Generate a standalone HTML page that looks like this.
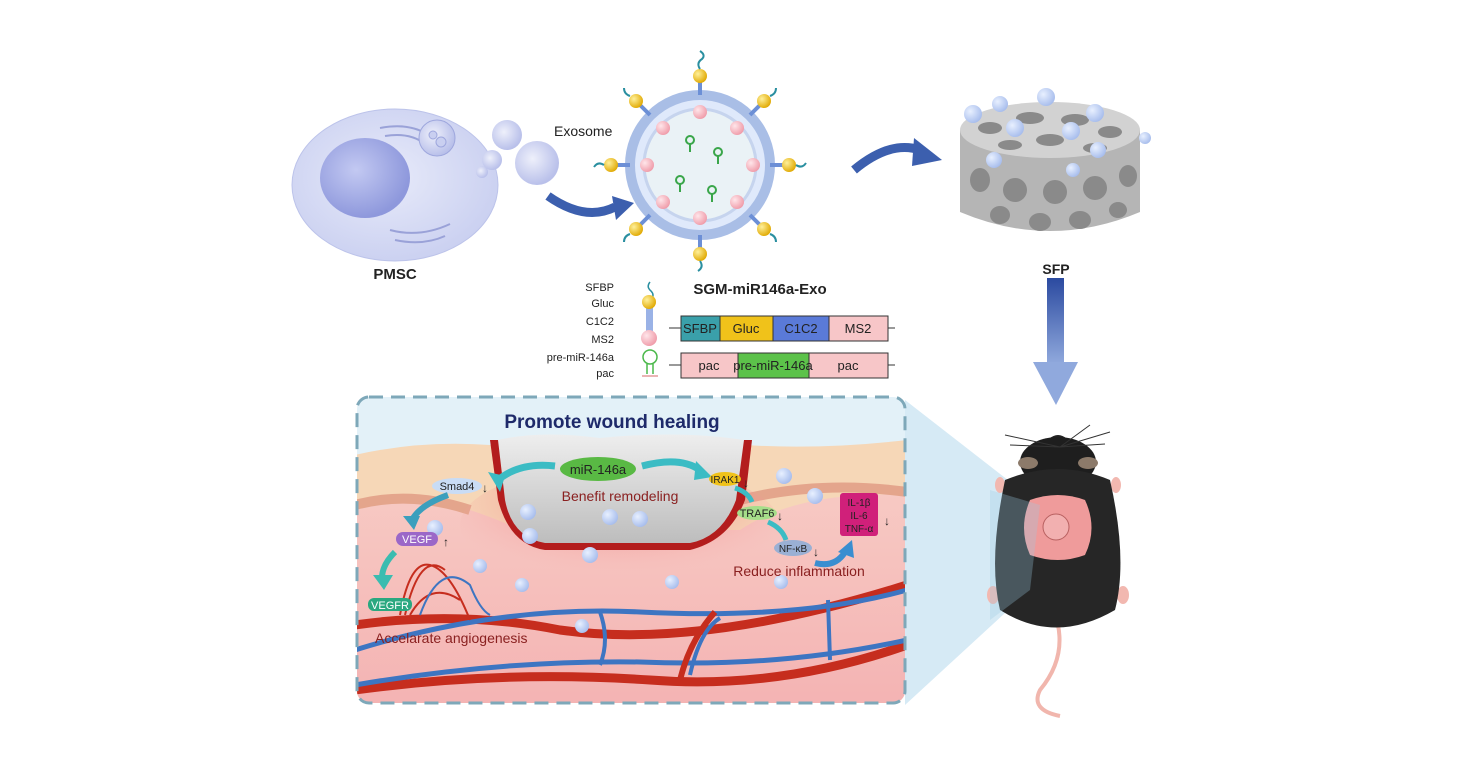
<!DOCTYPE html>
<html><head><meta charset="utf-8"><style>
html,body{margin:0;padding:0;background:#fff;}
svg{display:block;font-family:"Liberation Sans",Arial,sans-serif;}
</style></head><body>
<svg width="1471" height="784" viewBox="0 0 1471 784" xmlns="http://www.w3.org/2000/svg">
<defs>
<radialGradient id="cell" cx="0.45" cy="0.45" r="0.6"><stop offset="0" stop-color="#e8ebfa"/><stop offset="1" stop-color="#c9cff0"/></radialGradient>
<radialGradient id="nuc" cx="0.4" cy="0.4" r="0.6"><stop offset="0" stop-color="#c3c9f2"/><stop offset="1" stop-color="#8e98dc"/></radialGradient>
<radialGradient id="ves" cx="0.4" cy="0.4" r="0.6"><stop offset="0" stop-color="#eef0fb"/><stop offset="1" stop-color="#b9c0ea"/></radialGradient>
<radialGradient id="bead" cx="0.35" cy="0.35" r="0.7"><stop offset="0" stop-color="#e8f0ff"/><stop offset="1" stop-color="#a6bcec"/></radialGradient>
<radialGradient id="gold" cx="0.35" cy="0.35" r="0.7"><stop offset="0" stop-color="#fff09a"/><stop offset="1" stop-color="#e0a800"/></radialGradient>
<radialGradient id="pinkb" cx="0.35" cy="0.35" r="0.7"><stop offset="0" stop-color="#ffe6ea"/><stop offset="1" stop-color="#ef9aa8"/></radialGradient>
<linearGradient id="darr" x1="0" y1="0" x2="0" y2="1"><stop offset="0" stop-color="#2b4aa0"/><stop offset="1" stop-color="#8fa8dc"/></linearGradient>
<linearGradient id="skin" x1="0" y1="0" x2="0" y2="1"><stop offset="0" stop-color="#f7c9c3"/><stop offset="1" stop-color="#f4b3b3"/></linearGradient>
<radialGradient id="wglow" cx="0.5" cy="0.3" r="0.6"><stop offset="0" stop-color="#ee4a4a" stop-opacity="0.7"/><stop offset="1" stop-color="#f4b3b3" stop-opacity="0"/></radialGradient>
<linearGradient id="gray" x1="0" y1="0" x2="0" y2="1"><stop offset="0" stop-color="#eeeeee"/><stop offset="1" stop-color="#bdbdbd"/></linearGradient>
<clipPath id="boxclip"><rect x="357" y="397" width="548" height="306" rx="12"/></clipPath>
</defs>

<!-- PMSC cell -->
<ellipse cx="395" cy="185" rx="103" ry="76" fill="url(#cell)" stroke="#bcc3ea"/>
<ellipse cx="365" cy="178" rx="45" ry="40" fill="url(#nuc)"/>
<path d="M380 128 q30 -6 50 8 M385 136 q25 -4 40 8 M390 230 q30 8 60 -6 M395 240 q28 6 50 -4" stroke="#9aa2d8" stroke-width="2" fill="none"/>
<circle cx="437" cy="138" r="18" fill="url(#ves)" stroke="#9ea7dd"/>
<circle cx="433" cy="135" r="4" fill="#c9cff0" stroke="#9ea7dd"/><circle cx="441" cy="142" r="5" fill="#c9cff0" stroke="#9ea7dd"/>
<circle cx="507" cy="135" r="15" fill="url(#ves)"/>
<circle cx="492" cy="160" r="10" fill="url(#ves)"/>
<circle cx="482" cy="172" r="6" fill="url(#ves)"/>
<circle cx="537" cy="163" r="22" fill="url(#ves)"/>
<text x="554" y="136" font-size="14" fill="#222">Exosome</text>
<text x="395" y="279" font-size="15" font-weight="bold" text-anchor="middle" fill="#222">PMSC</text>
<!-- arrow 1 -->
<path d="M548 196 Q585 222 615 207" stroke="#3c5fae" stroke-width="9" fill="none"/>
<polygon points="612,196 634,203 616,220" fill="#3c5fae"/>

<!-- Exosome -->
<circle cx="700" cy="165" r="70" fill="#dfe9fb" stroke="#a9bee6" stroke-width="10"/>
<circle cx="700" cy="165" r="56" fill="#eaf2f6" stroke="#c6d4ee" stroke-width="3"/>
<g stroke="#6c8fd6" stroke-width="4">
<line x1="700" y1="95" x2="700" y2="78"/><line x1="700" y1="235" x2="700" y2="252"/>
<line x1="630" y1="165" x2="613" y2="165"/><line x1="770" y1="165" x2="787" y2="165"/>
<line x1="650" y1="115" x2="638" y2="103"/><line x1="750" y1="115" x2="762" y2="103"/>
<line x1="650" y1="215" x2="638" y2="227"/><line x1="750" y1="215" x2="762" y2="227"/>
</g>
<g fill="url(#gold)">
<circle cx="700" cy="76" r="7"/><circle cx="700" cy="254" r="7"/><circle cx="611" cy="165" r="7"/><circle cx="789" cy="165" r="7"/>
<circle cx="636" cy="101" r="7"/><circle cx="764" cy="101" r="7"/><circle cx="636" cy="229" r="7"/><circle cx="764" cy="229" r="7"/>
</g>
<g fill="url(#pinkb)">
<circle cx="700" cy="112" r="7"/><circle cx="700" cy="218" r="7"/><circle cx="647" cy="165" r="7"/><circle cx="753" cy="165" r="7"/>
<circle cx="663" cy="128" r="7"/><circle cx="737" cy="128" r="7"/><circle cx="663" cy="202" r="7"/><circle cx="737" cy="202" r="7"/>
</g>
<g stroke="#3aa64a" stroke-width="2" fill="none">
<circle cx="690" cy="140" r="4"/><path d="M690 144 v8"/><circle cx="718" cy="152" r="4"/><path d="M718 156 v8"/>
<circle cx="680" cy="180" r="4"/><path d="M680 184 v8"/><circle cx="712" cy="190" r="4"/><path d="M712 194 v8"/>
</g>
<g stroke="#2a8fa0" stroke-width="2" fill="none">
<path d="M700 69 q-4 -6 2 -10 q4 -4 -2 -8"/><path d="M700 261 q4 6 -2 10"/><path d="M604 165 q-6 -4 -10 2"/><path d="M796 165 q6 4 10 -2"/>
<path d="M630 96 q-6 -2 -6 -8"/><path d="M770 96 q6 -2 6 -8"/><path d="M630 234 q-6 2 -6 8"/><path d="M770 234 q6 2 6 8"/>
</g>
<text x="760" y="294" font-size="15" font-weight="bold" text-anchor="middle" fill="#222">SGM-miR146a-Exo</text>
<!-- arrow 2 -->
<path d="M854 170 Q890 140 920 150" stroke="#3c5fae" stroke-width="9" fill="none"/>
<polygon points="914,138 942,160 912,166" fill="#3c5fae"/>

<!-- SFP -->
<path d="M960 130 L960 212 Q1050 250 1140 212 L1140 130 Z" fill="#b5b5b5"/>
<ellipse cx="1050" cy="130" rx="90" ry="28" fill="#d2d2d2"/>
<g fill="#8a8a8a">
<ellipse cx="990" cy="128" rx="12" ry="6"/><ellipse cx="1030" cy="118" rx="14" ry="6"/><ellipse cx="1075" cy="120" rx="14" ry="6"/><ellipse cx="1110" cy="132" rx="12" ry="6"/><ellipse cx="1050" cy="140" rx="14" ry="6"/><ellipse cx="1010" cy="145" rx="12" ry="5"/><ellipse cx="1095" cy="148" rx="12" ry="5"/>
<ellipse cx="980" cy="180" rx="10" ry="12"/><ellipse cx="1015" cy="190" rx="12" ry="12"/><ellipse cx="1055" cy="192" rx="12" ry="12"/><ellipse cx="1095" cy="188" rx="12" ry="12"/><ellipse cx="1128" cy="176" rx="9" ry="11"/><ellipse cx="1000" cy="215" rx="10" ry="9"/><ellipse cx="1040" cy="222" rx="11" ry="9"/><ellipse cx="1080" cy="220" rx="11" ry="9"/><ellipse cx="1118" cy="210" rx="9" ry="8"/>
</g>
<g fill="url(#bead)">
<circle cx="1046" cy="97" r="9"/><circle cx="1000" cy="104" r="8"/><circle cx="973" cy="114" r="9"/><circle cx="1015" cy="128" r="9"/><circle cx="1095" cy="113" r="9"/><circle cx="1071" cy="131" r="9"/><circle cx="1145" cy="138" r="6"/><circle cx="1098" cy="150" r="8"/><circle cx="994" cy="160" r="8"/><circle cx="1073" cy="170" r="7"/>
</g>
<text x="1056" y="274" font-size="14" font-weight="bold" text-anchor="middle" fill="#222">SFP</text>
<rect x="1047" y="278" width="17" height="85" fill="url(#darr)"/>
<polygon points="1033,362 1078,362 1056,405" fill="#90a9dd"/>

<!-- Legend -->
<g font-size="11" fill="#222" text-anchor="end">
<text x="614" y="291">SFBP</text><text x="614" y="307">Gluc</text><text x="614" y="325">C1C2</text><text x="614" y="343">MS2</text><text x="614" y="361">pre-miR-146a</text><text x="614" y="377">pac</text>
</g>
<path d="M650 282 q-4 5 1 9 q4 4 0 9" stroke="#2a8fa0" stroke-width="1.5" fill="none"/>
<rect x="646" y="305" width="7" height="30" fill="#9ab2e6"/>
<circle cx="649" cy="302" r="7" fill="url(#gold)"/>
<circle cx="649" cy="338" r="8" fill="url(#pinkb)"/>
<circle cx="650" cy="357" r="7" fill="none" stroke="#4ab84a" stroke-width="1.5"/>
<path d="M647 364 v10 M653 364 v10" stroke="#4ab84a" stroke-width="1.5"/>
<path d="M642 376 h16" stroke="#e29a9a" stroke-width="1.5"/>
<line x1="669" y1="328" x2="895" y2="328" stroke="#333"/>
<line x1="669" y1="365" x2="895" y2="365" stroke="#333"/>
<g stroke="#333" stroke-width="1">
<rect x="681" y="316" width="39" height="25" fill="#3aa0aa"/><rect x="720" y="316" width="53" height="25" fill="#f0c21a"/><rect x="773" y="316" width="56" height="25" fill="#5a7ad8"/><rect x="829" y="316" width="59" height="25" fill="#f7c6c8"/>
<rect x="681" y="353" width="57" height="25" fill="#f7c6c8"/><rect x="738" y="353" width="71" height="25" fill="#5cc24a"/><rect x="809" y="353" width="79" height="25" fill="#f7c6c8"/>
</g>
<g font-size="13" fill="#222" text-anchor="middle">
<text x="700" y="333">SFBP</text><text x="746" y="333">Gluc</text><text x="801" y="333">C1C2</text><text x="858" y="333">MS2</text>
<text x="709" y="370">pac</text><text x="773" y="370">pre-miR-146a</text><text x="848" y="370">pac</text>
</g>

<!-- projection triangle (behind mouse, light) -->
<polygon points="905,400 1040,505 1030,590 905,705" fill="#d6eaf5"/>

<!-- Mouse -->
<ellipse cx="1000" cy="485" rx="5" ry="8" fill="#f2b8b0"/><ellipse cx="1116" cy="485" rx="5" ry="8" fill="#f2b8b0"/>
<ellipse cx="993" cy="595" rx="6" ry="9" fill="#f2b8b0"/><ellipse cx="1123" cy="595" rx="6" ry="9" fill="#f2b8b0"/>
<path d="M1040 450 Q1058 420 1076 450" fill="#222"/>
<ellipse cx="1058" cy="462" rx="38" ry="25" fill="#1e1e1e"/>
<ellipse cx="1028" cy="463" rx="10" ry="6" fill="#8c7a6a"/><ellipse cx="1088" cy="463" rx="10" ry="6" fill="#8c7a6a"/>
<path d="M1060 447 l-55 -12 M1060 447 l-50 -2 M1060 447 l50 -15 M1060 447 l45 -3 M1060 447 l30 -22" stroke="#333" stroke-width="1"/>
<path d="M1058 625 Q1065 660 1040 690 Q1030 710 1060 716" stroke="#f1b6ad" stroke-width="4" fill="none"/>
<path d="M1005 480 Q988 560 1000 610 Q1055 645 1115 610 Q1128 560 1110 480 Q1058 458 1005 480 Z" fill="#262626"/>
<path d="M1030 500 Q1058 490 1085 500 Q1098 528 1085 555 Q1058 565 1030 555 Q1018 528 1030 500 Z" fill="#ef9b9b"/>
<circle cx="1056" cy="527" r="13" fill="#f2b0b0" stroke="#b86060"/>
<polygon points="990,490 1040,505 1030,590 990,620" fill="#9ccbe2" opacity="0.3"/>

<!-- Box -->
<g clip-path="url(#boxclip)">
<rect x="355" y="395" width="552" height="312" fill="#e3f1f8"/>
<path d="M355 455 Q420 440 490 445 L745 445 Q820 450 907 440 L907 707 L355 707 Z" fill="#f6d7b7"/>
<path d="M355 500 Q410 490 470 510 Q500 520 520 530 L740 530 Q800 490 907 495 L907 707 L355 707 Z" fill="url(#skin)"/>
<path d="M355 505 Q410 490 470 510" stroke="#e4a58c" stroke-width="10" fill="none"/>
<path d="M740 500 Q820 480 907 492" stroke="#e4a58c" stroke-width="10" fill="none"/>
<ellipse cx="620" cy="525" rx="160" ry="60" fill="url(#wglow)"/>
<path d="M490 440 L498 500 Q510 545 545 550 L690 550 Q730 540 745 500 L752 440 Z" fill="#b31d1d"/>
<path d="M498 440 Q540 430 600 438 Q680 430 744 440 L736 500 Q722 537 690 543 L545 543 Q512 537 505 500 Z" fill="url(#gray)"/>
<path d="M355 625 Q460 610 560 630 Q700 650 907 585" stroke="#c62d1e" stroke-width="9" fill="none"/>
<path d="M355 690 Q500 670 650 680 Q780 690 907 645" stroke="#c62d1e" stroke-width="9" fill="none"/>
<path d="M355 650 Q500 605 640 612 Q800 620 907 590" stroke="#3d75c2" stroke-width="5" fill="none"/>
<path d="M355 685 Q500 660 640 662 Q780 668 907 640" stroke="#3d75c2" stroke-width="5" fill="none"/>
<path d="M600 665 Q610 640 600 612 M690 675 Q700 630 720 618 M830 660 L828 600" stroke="#3d75c2" stroke-width="4" fill="none"/>
<path d="M680 680 Q690 640 715 612" stroke="#c62d1e" stroke-width="6" fill="none"/>
<path d="M400 615 Q410 560 430 565 Q450 570 470 620 M405 615 Q420 550 445 570 M410 615 Q430 580 460 600" stroke="#c62d1e" stroke-width="2" fill="none"/>
<path d="M420 615 Q440 560 470 585 Q480 610 490 615" stroke="#3d75c2" stroke-width="2" fill="none"/>
<g fill="url(#bead)">
<circle cx="784" cy="476" r="8"/><circle cx="435" cy="528" r="8"/><circle cx="815" cy="496" r="8"/><circle cx="528" cy="512" r="8"/><circle cx="610" cy="517" r="8"/><circle cx="640" cy="519" r="8"/><circle cx="530" cy="536" r="8"/><circle cx="590" cy="555" r="8"/><circle cx="480" cy="566" r="7"/><circle cx="522" cy="585" r="7"/><circle cx="672" cy="582" r="7"/><circle cx="781" cy="582" r="7"/><circle cx="582" cy="626" r="7"/>
</g>
</g>
<rect x="357" y="397" width="548" height="306" rx="12" fill="none" stroke="#7ea8b9" stroke-width="3" stroke-dasharray="14 8"/>
<text x="612" y="428" font-size="19" font-weight="bold" text-anchor="middle" fill="#1e2a6a">Promote wound healing</text>
<ellipse cx="598" cy="469" rx="38" ry="12" fill="#59b944"/>
<text x="598" y="474" font-size="13" text-anchor="middle" fill="#222">miR-146a</text>
<path d="M555 466 Q520 462 498 480" stroke="#3bbcc4" stroke-width="7" fill="none"/>
<polygon points="488,472 500,492 505,476" fill="#3bbcc4"/>
<path d="M642 466 Q680 456 700 470" stroke="#3bbcc4" stroke-width="7" fill="none"/>
<polygon points="696,461 712,477 694,480" fill="#3bbcc4"/>
<text x="620" y="501" font-size="14" text-anchor="middle" fill="#8a2020">Benefit remodeling</text>
<ellipse cx="457" cy="486" rx="25" ry="8" fill="#c9dcf5"/>
<text x="457" y="490" font-size="11" text-anchor="middle" fill="#222">Smad4</text>
<text x="482" y="492" font-size="12" fill="#222">↓</text>
<path d="M448 495 Q420 505 412 520" stroke="#3b9fbd" stroke-width="6" fill="none"/>
<polygon points="403,516 414,530 420,516" fill="#3b9fbd"/>
<rect x="396" y="532" width="42" height="14" rx="7" fill="#9b67c8"/>
<text x="417" y="543" font-size="11" text-anchor="middle" fill="#fff">VEGF</text>
<text x="443" y="546" font-size="12" fill="#222">↑</text>
<path d="M395 552 Q382 565 382 578" stroke="#3bbcb0" stroke-width="6" fill="none"/>
<polygon points="373,575 384,590 393,575" fill="#3bbcb0"/>
<rect x="368" y="598" width="44" height="13" rx="6" fill="#2aa880"/>
<text x="390" y="609" font-size="11" text-anchor="middle" fill="#fff">VEGFR</text>
<ellipse cx="725" cy="479" rx="16" ry="7" fill="#f0c21a"/>
<text x="725" y="483" font-size="10" text-anchor="middle" fill="#222">IRAK1</text>
<text x="743" y="487" font-size="12" fill="#222">↓</text>
<path d="M735 488 Q748 492 752 502" stroke="#3bbcc4" stroke-width="5" fill="none"/>
<ellipse cx="757" cy="513" rx="20" ry="7" fill="#a6de8a"/>
<text x="757" y="517" font-size="11" text-anchor="middle" fill="#222">TRAF6</text>
<text x="777" y="520" font-size="12" fill="#222">↓</text>
<path d="M768 522 Q782 528 786 540" stroke="#3bbcc4" stroke-width="5" fill="none"/>
<ellipse cx="793" cy="548" rx="19" ry="8" fill="#9ab0d4"/>
<text x="793" y="552" font-size="10" text-anchor="middle" fill="#222">NF-κB</text>
<text x="813" y="556" font-size="12" fill="#222">↓</text>
<path d="M815 563 Q835 568 845 552" stroke="#3a8ed0" stroke-width="6" fill="none"/>
<polygon points="838,552 852,540 854,558" fill="#3a8ed0"/>
<rect x="840" y="493" width="38" height="43" rx="3" fill="#d0207a"/>
<g font-size="10" text-anchor="middle" fill="#222"><text x="859" y="506">IL-1β</text><text x="859" y="519">IL-6</text><text x="859" y="532">TNF-α</text></g>
<text x="884" y="525" font-size="12" fill="#222">↓</text>
<text x="799" y="576" font-size="14" text-anchor="middle" fill="#8a2020">Reduce inflammation</text>
<text x="375" y="643" font-size="14" fill="#8a2020">Accelarate angiogenesis</text>
</svg>
</body></html>
